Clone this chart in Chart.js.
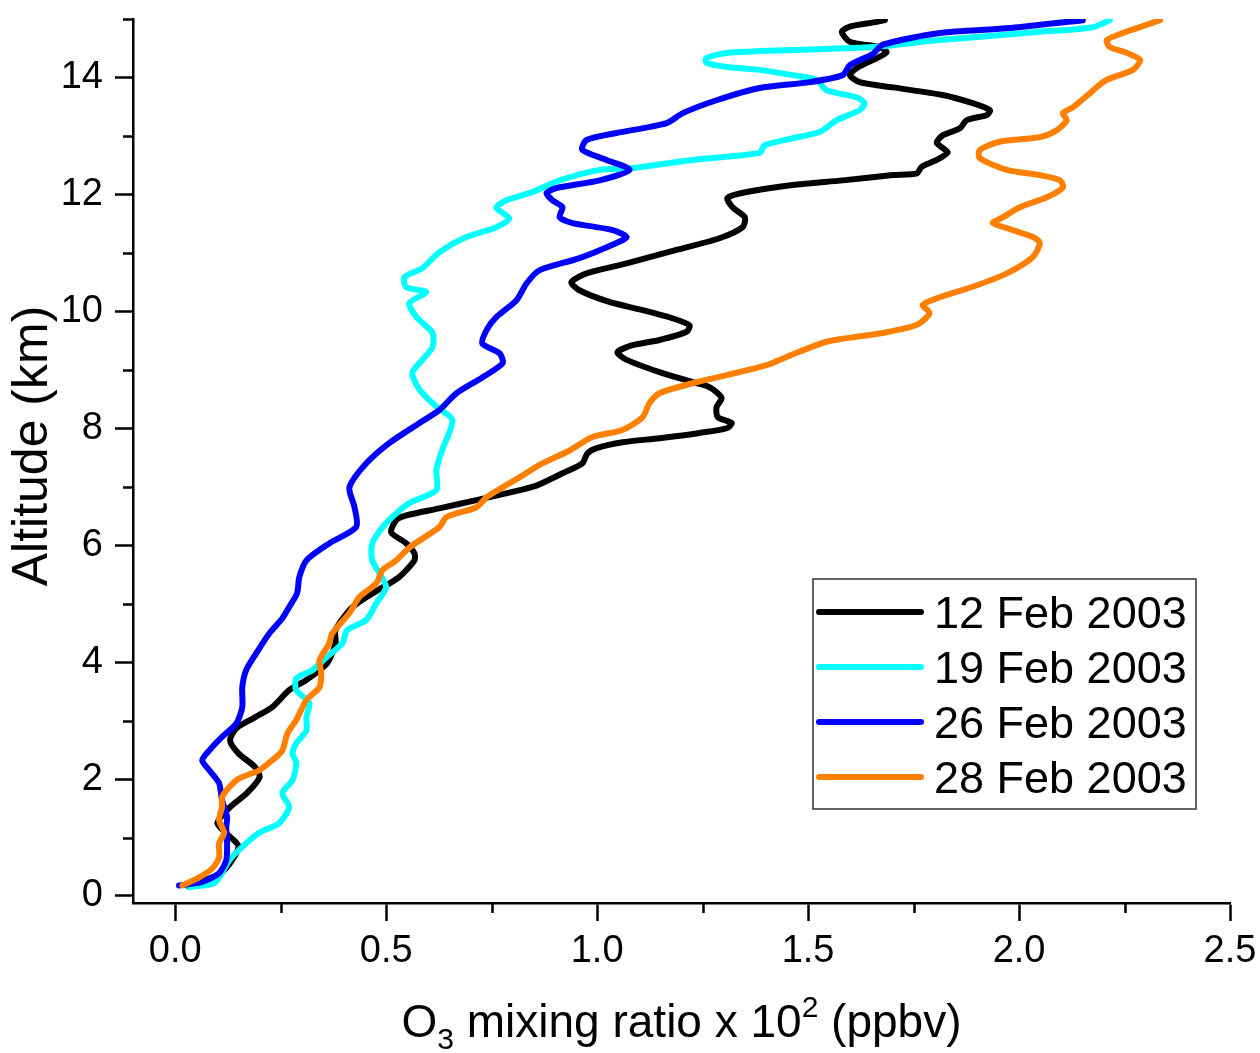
<!DOCTYPE html>
<html lang="en">
<head>
<meta charset="UTF-8">
<title>O3 profiles - Feb 2003</title>
<script src="https://cdn.jsdelivr.net/npm/chart.js@4.4.1/dist/chart.umd.min.js"></script>
<style>
  html, body { margin: 0; padding: 0; background: #fff; }
  #wrap { width: 1260px; height: 1053px; }
</style>
</head>
<body>
<div id="wrap"><canvas id="profileChart" width="1260" height="1053"></canvas></div>
<script>
// series labels and colours
var seriesLabels = ['12 Feb 2003', '19 Feb 2003', '26 Feb 2003', '28 Feb 2003'];
var seriesColors = ['#000000', '#00ffff', '#0000ff', '#ff8000'];

// 12 Feb 2003
var o3Feb12 = [0.03,0.11,0.15,0.12,0.10,0.13,0.17,0.20,0.19,0.15,0.13,0.145,0.19,0.23,0.27,0.31,0.36,0.38,0.38,0.42,0.48,0.53,0.567,0.567,0.548,0.512,0.524,0.548,0.626,0.714,0.792,0.856,0.918,0.965,0.977,0.999,1.060,1.148,1.243,1.307,1.319,1.286,1.283,1.295,1.267,1.226,1.148,1.070,1.048,1.084,1.148,1.212,1.219,1.179,1.108,1.029,0.958,0.939,0.975,1.070,1.188,1.290,1.345,1.350,1.321,1.309,1.354,1.463,1.582,1.701,1.758,1.769,1.805,1.831,1.805,1.819,1.860,1.876,1.924,1.931,1.890,1.819,1.701,1.622,1.599,1.615,1.663,1.686,1.670,1.599,1.580,1.599,1.663,1.682];
var altFeb12 = [0.17,0.40,0.84,1.08,1.25,1.52,1.76,2.03,2.20,2.44,2.66,2.87,3.06,3.23,3.52,3.69,3.98,4.32,4.55,4.94,5.23,5.45,5.74,5.86,6.03,6.22,6.43,6.51,6.63,6.77,6.90,7.02,7.23,7.40,7.57,7.66,7.76,7.83,7.92,8.00,8.09,8.19,8.36,8.52,8.70,8.79,8.96,9.17,9.30,9.42,9.51,9.65,9.76,9.88,10.02,10.16,10.36,10.50,10.65,10.82,11.05,11.25,11.44,11.61,11.78,11.94,12.04,12.16,12.24,12.33,12.36,12.47,12.59,12.72,12.88,13.01,13.13,13.27,13.36,13.44,13.56,13.70,13.83,13.92,14.04,14.16,14.33,14.43,14.52,14.61,14.78,14.87,14.95,14.98];

// 19 Feb 2003
var o3Feb19 = [0.033,0.093,0.109,0.128,0.159,0.199,0.247,0.270,0.254,0.278,0.287,0.278,0.287,0.311,0.311,0.318,0.287,0.287,0.325,0.358,0.396,0.408,0.453,0.477,0.500,0.484,0.467,0.467,0.500,0.555,0.619,0.619,0.633,0.657,0.619,0.579,0.562,0.586,0.610,0.610,0.572,0.555,0.595,0.548,0.543,0.586,0.626,0.690,0.761,0.792,0.761,0.785,0.847,0.911,1.006,1.084,1.226,1.385,1.397,1.463,1.528,1.568,1.622,1.634,1.615,1.544,1.520,1.463,1.385,1.307,1.259,1.259,1.307,1.463,1.653,1.812,2.049,2.175,2.215];
var altFeb19 = [0.15,0.22,0.37,0.61,0.84,1.08,1.25,1.52,1.76,1.98,2.27,2.44,2.61,2.83,3.06,3.30,3.52,3.72,3.86,4.08,4.32,4.55,4.72,5.01,5.28,5.52,5.74,6.03,6.38,6.72,6.94,7.29,7.63,8.14,8.37,8.66,8.95,9.17,9.39,9.63,9.90,10.14,10.33,10.41,10.58,10.74,11.01,11.27,11.44,11.59,11.77,11.90,12.04,12.24,12.42,12.45,12.59,12.71,12.84,12.96,13.07,13.27,13.44,13.56,13.66,13.78,13.96,14.04,14.13,14.18,14.25,14.33,14.42,14.47,14.52,14.64,14.78,14.86,14.98];

// 26 Feb 2003
var o3Feb26 = [0.009,0.064,0.104,0.121,0.123,0.121,0.123,0.111,0.104,0.081,0.064,0.081,0.111,0.145,0.159,0.159,0.168,0.192,0.223,0.254,0.270,0.289,0.294,0.311,0.365,0.429,0.425,0.413,0.453,0.508,0.579,0.626,0.667,0.728,0.776,0.769,0.728,0.738,0.761,0.809,0.833,0.863,0.958,1.046,1.070,1.037,0.942,0.911,0.918,0.894,0.880,0.904,1.006,1.077,1.022,0.965,0.975,1.046,1.165,1.203,1.283,1.385,1.504,1.582,1.599,1.653,1.677,1.812,1.971,2.151];
var altFeb26 = [0.18,0.24,0.39,0.61,0.90,1.18,1.35,1.64,1.93,2.15,2.32,2.49,2.72,2.95,3.23,3.57,3.86,4.15,4.49,4.75,4.94,5.18,5.45,5.74,6.03,6.31,6.65,6.99,7.40,7.75,8.09,8.31,8.60,8.87,9.11,9.28,9.45,9.68,9.90,10.19,10.48,10.70,10.91,11.17,11.27,11.39,11.51,11.61,11.78,11.90,12.02,12.11,12.24,12.42,12.59,12.76,12.93,13.05,13.22,13.39,13.61,13.82,13.92,14.04,14.21,14.40,14.56,14.76,14.84,14.98];

// 28 Feb 2003
var o3Feb28 = [0.017,0.057,0.088,0.104,0.104,0.116,0.104,0.111,0.111,0.128,0.152,0.199,0.230,0.254,0.266,0.287,0.311,0.342,0.346,0.342,0.365,0.372,0.413,0.436,0.477,0.491,0.524,0.555,0.626,0.643,0.714,0.738,0.776,0.816,0.870,0.935,0.989,1.060,1.108,1.124,1.148,1.226,1.307,1.402,1.449,1.544,1.677,1.758,1.788,1.772,1.812,1.890,1.971,2.033,2.049,2.033,1.985,1.938,1.962,2.002,2.066,2.104,2.097,2.049,1.971,1.907,1.907,1.954,2.049,2.090,2.113,2.104,2.128,2.168,2.185,2.208,2.270,2.287,2.256,2.215,2.208,2.246,2.287,2.334];
var altFeb28 = [0.18,0.32,0.47,0.66,0.90,1.08,1.30,1.52,1.69,1.86,2.01,2.15,2.32,2.49,2.78,3.01,3.35,3.57,3.81,4.03,4.32,4.49,4.84,5.11,5.35,5.57,5.74,5.96,6.31,6.48,6.65,6.82,6.99,7.16,7.40,7.62,7.85,7.97,8.19,8.43,8.60,8.77,8.91,9.08,9.22,9.48,9.63,9.77,9.97,10.11,10.24,10.42,10.65,10.93,11.17,11.27,11.39,11.51,11.61,11.78,11.95,12.12,12.24,12.33,12.42,12.62,12.76,12.90,12.98,13.10,13.27,13.39,13.49,13.73,13.84,13.96,14.13,14.30,14.42,14.52,14.64,14.76,14.86,14.98];

// axis ticks
var xMajorTicks = [0, 0.5, 1.0, 1.5, 2.0, 2.5];
var xMinorTicks = [0.25, 0.75, 1.25, 1.75, 2.25];
var yMajorTicks = [0, 2, 4, 6, 8, 10, 12, 14];
var yMinorTicks = [1, 3, 5, 7, 9, 11, 13, 15];

var fontFamily = '"Liberation Sans", Arial, sans-serif';

function toPoints(xs, ys) {
    var pts = [];
    for (var i = 0; i < Math.min(xs.length, ys.length); i++) {
        pts.push({ x: xs[i], y: ys[i] });
    }
    return pts;
}

var profiles = [
    toPoints(o3Feb12, altFeb12),
    toPoints(o3Feb19, altFeb19),
    toPoints(o3Feb26, altFeb26),
    toPoints(o3Feb28, altFeb28)
];

// minor ticks, axis titles and the framed legend
var extrasPlugin = {
    id: 'extras',
    afterDraw: function (chart) {
        var ctx = chart.ctx;
        var area = chart.chartArea;
        var xs = chart.scales.x, ys = chart.scales.y;
        ctx.save();

        // minor ticks
        ctx.strokeStyle = '#000';
        ctx.lineWidth = 2.5;
        ctx.beginPath();
        yMinorTicks.forEach(function (v) {
            var p = Math.round(ys.getPixelForValue(v)) + 0.5;
            ctx.moveTo(area.left - 10, p);
            ctx.lineTo(area.left, p);
        });
        xMinorTicks.forEach(function (v) {
            var p = Math.round(xs.getPixelForValue(v)) + 0.5;
            ctx.moveTo(p, area.bottom);
            ctx.lineTo(p, area.bottom + 10);
        });
        ctx.stroke();

        // x title with sub/superscript
        ctx.fillStyle = '#000';
        var big = 46, small = 30;
        var parts = [
            ['O', big, 0], ['3', small, 12], [' mixing ratio x 10', big, 0],
            ['2', small, -20], [' (ppbv)', big, 0]
        ];
        var total = 0;
        parts.forEach(function (p) {
            ctx.font = p[1] + 'px ' + fontFamily;
            total += ctx.measureText(p[0]).width;
        });
        var cx = (area.left + area.right) / 2 - total / 2;
        var baseY = 1037;
        ctx.textBaseline = 'alphabetic';
        ctx.textAlign = 'left';
        parts.forEach(function (p) {
            ctx.font = p[1] + 'px ' + fontFamily;
            ctx.fillText(p[0], cx, baseY + p[2]);
            cx += ctx.measureText(p[0]).width;
        });

        // y title
        ctx.save();
        ctx.translate(47, 446);
        ctx.rotate(-Math.PI / 2);
        ctx.font = '50px ' + fontFamily;
        ctx.textAlign = 'center';
        ctx.fillText('Altitude (km)', 0, 0);
        ctx.restore();

        // legend box
        var bw = 383, bh = 230;
        var bx = area.right - 34 - bw;
        var by = area.bottom - 94 - bh;
        ctx.fillStyle = '#fff';
        ctx.fillRect(bx, by, bw, bh);
        ctx.strokeStyle = '#333';
        ctx.lineWidth = 1.5;
        ctx.strokeRect(bx, by, bw, bh);
        ctx.font = '45px ' + fontFamily;
        ctx.textAlign = 'left';
        ctx.lineCap = 'round';
        chart.data.datasets.forEach(function (ds, i) {
            var ly = by + 33 + i * 55;
            ctx.strokeStyle = ds.borderColor;
            ctx.lineWidth = 6;
            ctx.beginPath();
            ctx.moveTo(bx + 6, ly);
            ctx.lineTo(bx + 108, ly);
            ctx.stroke();
            ctx.fillStyle = '#000';
            ctx.fillText(ds.label, bx + 121, ly + 16);
        });
        ctx.restore();
    }
};

var ctx = document.getElementById('profileChart').getContext('2d');
var chart = new Chart(ctx, {
    type: 'scatter',
    data: {
        datasets: profiles.map(function (pts, i) {
            return {
                label: seriesLabels[i],
                data: pts,
                showLine: true,
                borderColor: seriesColors[i],
                backgroundColor: seriesColors[i],
                borderWidth: 6,
                pointRadius: 0,
                tension: 0.25,
                borderCapStyle: 'round',
                borderJoinStyle: 'round',
                order: 4 - i
            };
        })
    },
    options: {
        responsive: false,
        animation: false,
        devicePixelRatio: 1,
        layout: { padding: { top: 19, right: 30, left: 0, bottom: 0 } },
        plugins: {
            legend: { display: false },
            tooltip: { enabled: false },
            title: { display: false }
        },
        scales: {
            x: {
                type: 'linear',
                min: -0.1,
                max: 2.5,
                afterBuildTicks: function (scale) {
                    scale.ticks = xMajorTicks.map(function (v) { return { value: v }; });
                },
                afterFit: function (scale) {
                    scale.height = 150;
                    scale.paddingLeft = 0;
                    scale.paddingRight = 0;
                },
                ticks: {
                    color: '#000',
                    font: { family: fontFamily, size: 38 },
                    padding: 8,
                    maxRotation: 0,
                    callback: function (v) { return Number(v).toFixed(1); }
                },
                grid: {
                    drawOnChartArea: false,
                    drawTicks: true,
                    tickLength: 18,
                    tickWidth: 2.5,
                    tickColor: '#000'
                },
                border: { display: true, color: '#000', width: 2.5 }
            },
            y: {
                type: 'linear',
                min: -0.12,
                max: 15,
                afterBuildTicks: function (scale) {
                    scale.ticks = yMajorTicks.map(function (v) { return { value: v }; });
                },
                afterFit: function (scale) {
                    scale.width = 133;
                    scale.paddingTop = 0;
                    scale.paddingBottom = 0;
                },
                ticks: {
                    color: '#000',
                    font: { family: fontFamily, size: 38 },
                    padding: 12,
                    callback: function (v) { return String(v); }
                },
                grid: {
                    drawOnChartArea: false,
                    drawTicks: true,
                    tickLength: 18,
                    tickWidth: 2.5,
                    tickColor: '#000'
                },
                border: { display: true, color: '#000', width: 2.5 }
            }
        }
    },
    plugins: [extrasPlugin]
});
</script>
</body>
</html>
